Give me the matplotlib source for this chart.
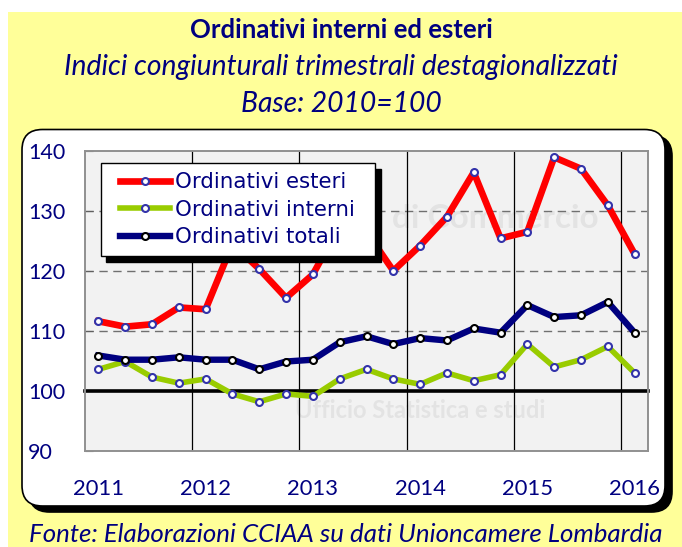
import matplotlib
matplotlib.use("Agg")

import matplotlib.pyplot as plt
from matplotlib.patches import Rectangle, FancyBboxPatch

# ---- data (quarterly indices, 2011 Q1 .. 2016 Q1) ----
quarters = list(range(21))
year_labels = ["2011", "2012", "2013", "2014", "2015", "2016"]
year_pos = [0, 4, 8, 12, 16, 20]

esteri = [111.6, 110.7, 111.1, 113.9, 113.6, 124.5, 120.3, 115.5, 119.4, 127.5, 126.5,
          120.0, 124.2, 129.0, 136.4, 125.4, 126.5, 138.9, 137.0, 130.9, 122.8]
interni = [103.6, 104.9, 102.3, 101.3, 102.0, 99.5, 98.2, 99.5, 99.1, 102.0, 103.6,
           102.0, 101.1, 103.0, 101.7, 102.7, 107.8, 104.0, 105.2, 107.4, 103.0]
totali = [105.9, 105.2, 105.2, 105.6, 105.2, 105.2, 103.6, 104.9, 105.2, 108.1, 109.1,
          107.8, 108.8, 108.4, 110.4, 109.7, 114.3, 112.3, 112.6, 114.8, 109.7]

NAVY = "#000080"
W, H = 682, 547

plt.rcParams["font.family"] = ["Lato", "DejaVu Sans"]

fig = plt.figure(figsize=(W / 100, H / 100), dpi=100)
fig.patch.set_facecolor("white")


def fx(x):
    return x / W


def fy(y):
    return 1 - y / H


# yellow page + rounded white panel with black shadow
fig.patches.append(Rectangle((fx(8), 0), 1 - fx(8), fy(12), transform=fig.transFigure,
                             facecolor="#FFFF99", edgecolor="none", zorder=-10))
bx0, by0, bx1, by1 = 22, 129.5, 665, 506
for dx, dy, fc in [(7, 6, "black"), (0, 0, "white")]:
    fig.patches.append(FancyBboxPatch(
        (fx(bx0 + dx), fy(by1 + dy)), fx(bx1 - bx0), (by1 - by0) / H,
        boxstyle="round,pad=0,rounding_size=0.03", mutation_aspect=W / H,
        transform=fig.transFigure, facecolor=fc, edgecolor="black",
        linewidth=1.2, zorder=-9))

# titles
fig.text(0.5, fy(38.3), "Ordinativi interni ed esteri", ha="center", va="baseline",
         fontsize=18.5, fontweight="bold", color=NAVY)
fig.text(0.5, fy(75), "Indici congiunturali trimestrali destagionalizzati", ha="center",
         va="baseline", fontsize=20.3, fontstyle="italic", color=NAVY)
fig.text(0.5, fy(111.7), "Base: 2010=100", ha="center", va="baseline",
         fontsize=20.3, fontstyle="italic", color=NAVY)
fig.text(fx(346), fy(542), "Fonte: Elaborazioni CCIAA su dati Unioncamere Lombardia",
         ha="center", va="baseline", fontsize=18.6, fontstyle="italic", color=NAVY)

# plot area
ax = fig.add_axes([fx(85), fy(451), (648 - 85) / W, (451 - 150.7) / H])
ax.set_facecolor("#F2F2F2")
for s in ax.spines.values():
    s.set_color("#909090")
    s.set_linewidth(1.4)

ax.set_xlim(-0.5, 20.5)
ax.set_ylim(90, 140)


def axpos(x, y):
    return (x - 85) / (648 - 85), (451 - y) / (451 - 150.7)


# faint watermark
ax.text(*axpos(392, 218), "di Commercio", transform=ax.transAxes, ha="left",
        va="center", fontsize=24, fontweight="bold", color="#E3E3E3", zorder=0)
ax.text(*axpos(420, 410), "Ufficio Statistica e studi", transform=ax.transAxes,
        ha="center", va="center", fontsize=17, fontweight="bold", color="#E3E3E3", zorder=0)

for yv in [110, 120, 130]:
    ax.axhline(yv, color="#707070", lw=1.0, ls=(0, (6, 4)), zorder=1)
for xv in [3.5, 7.5, 11.5, 15.5, 19.5]:
    ax.axvline(xv, color="black", lw=0.9, zorder=1)
ax.axhline(100, color="black", lw=2.6, zorder=2, clip_on=False)

ax.plot(quarters, esteri, color="#FF0000", lw=4.8, solid_joinstyle="round",
        marker="o", ms=5, mfc="white", mec="#3333AA", mew=1.5, zorder=4,
        label="Ordinativi esteri")
ax.plot(quarters, interni, color="#99CC00", lw=4.0, solid_joinstyle="round",
        marker="o", ms=5, mfc="white", mec="#3333AA", mew=1.5, zorder=3,
        label="Ordinativi interni")
ax.plot(quarters, totali, color=NAVY, lw=4.6, solid_joinstyle="round",
        marker="o", ms=5, mfc="white", mec="black", mew=1.5, zorder=3.5,
        label="Ordinativi totali")

ax.set_yticks([90, 100, 110, 120, 130, 140])
ax.set_xticks(year_pos)
ax.set_xticklabels(year_labels)
ax.tick_params(axis="y", direction="in", length=5.5, color="#606060", pad=41,
               labelsize=15.5, labelcolor=NAVY)
for t in ax.get_yticklabels():
    t.set_ha("left")
ax.tick_params(axis="x", length=0, pad=20, labelsize=15.8, labelcolor=NAVY)

# legend box with shadow
lx0, ly0, lx1, ly1 = 100.7, 163.3, 375, 256
for dx, fc in [(5.5, "black"), (0, "white")]:
    ax.add_patch(Rectangle((fx(lx0 + dx), fy(ly1 + dx)), fx(lx1 - lx0), (ly1 - ly0) / H,
                           transform=fig.transFigure, facecolor=fc, edgecolor="black",
                           lw=1.0, zorder=6, clip_on=False))
leg = ax.legend(loc="upper left", bbox_to_anchor=(fx(120), fy(172.5)),
                bbox_transform=fig.transFigure, frameon=False, borderpad=0,
                borderaxespad=0, handlelength=2.34, handletextpad=0.23,
                labelspacing=0.34, numpoints=1, labelcolor=NAVY,
                prop={"family": "DejaVu Sans", "size": 15.4})
leg.set_zorder(7)

fig.savefig("out.png", dpi=100)
